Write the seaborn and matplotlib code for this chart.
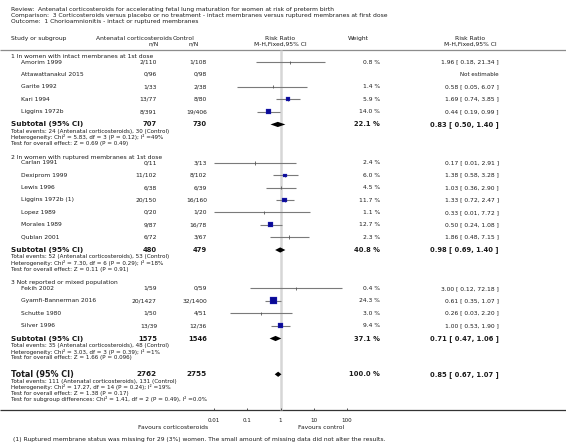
import matplotlib
matplotlib.use("Agg")
import matplotlib.pyplot as plt
import numpy as np
import pandas as pd
import seaborn as sns

sns.set_theme(style="white")
plt.rcParams["font.family"] = ["DejaVu Sans"]

# ---- data ----
title_lines = [
    "Review:  Antenatal corticosteroids for accelerating fetal lung maturation for women at risk of preterm birth",
    "Comparison:  3 Corticosteroids versus placebo or no treatment - intact membranes versus ruptured membranes at first dose",
    "Outcome:  1 Chorioamnionitis - intact or ruptured membranes",
]
subgroup_labels = [
    "1 In women with intact membranes at 1st dose",
    "2 In women with ruptured membranes at 1st dose",
    "3 Not reported or mixed population",
]
studies = [
    "Amorim 1999", "Attawattanakul 2015", "Garite 1992", "Kari 1994", "Liggins 1972b",
    "Carlan 1991", "Dexiprom 1999", "Lewis 1996", "Liggins 1972b (1)", "Lopez 1989",
    "Morales 1989", "Qublan 2001",
    "Fekih 2002", "Gyamfi-Bannerman 2016", "Schutte 1980", "Silver 1996",
]
study_group = [0, 0, 0, 0, 0, 1, 1, 1, 1, 1, 1, 1, 2, 2, 2, 2]
events_t = [2, 0, 1, 13, 8, 0, 11, 6, 20, 0, 9, 6, 1, 20, 1, 13]
total_t = [110, 96, 33, 77, 391, 11, 102, 38, 150, 20, 87, 72, 59, 1427, 50, 39]
events_c = [1, 0, 2, 8, 19, 3, 8, 6, 16, 1, 16, 3, 0, 32, 4, 12]
total_c = [108, 98, 38, 80, 406, 13, 102, 39, 160, 20, 78, 67, 59, 1400, 51, 36]
weight = [0.8, np.nan, 1.4, 5.9, 14.0, 2.4, 6.0, 4.5, 11.7, 1.1, 12.7, 2.3, 0.4, 24.3, 3.0, 9.4]
rr = [1.96, np.nan, 0.58, 1.69, 0.44, 0.17, 1.38, 1.03, 1.33, 0.33, 0.50, 1.86, 3.00, 0.61, 0.26, 1.00]
rr_lo = [0.18, np.nan, 0.05, 0.74, 0.19, 0.01, 0.58, 0.36, 0.72, 0.01, 0.24, 0.48, 0.12, 0.35, 0.03, 0.53]
rr_hi = [21.34, np.nan, 6.07, 3.85, 0.99, 2.91, 3.28, 2.90, 2.47, 7.72, 1.08, 7.15, 72.18, 1.07, 2.20, 1.90]

sub_n_t = [707, 480, 1575]
sub_n_c = [730, 479, 1546]
sub_weight = [22.1, 40.8, 37.1]
sub_rr = [0.83, 0.98, 0.71]
sub_lo = [0.50, 0.69, 0.47]
sub_hi = [1.40, 1.40, 1.06]
sub_notes = [
    ["Total events: 24 (Antenatal corticosteroids), 30 (Control)",
     "Heterogeneity: Chi² = 5.83, df = 3 (P = 0.12); I² =49%",
     "Test for overall effect: Z = 0.69 (P = 0.49)"],
    ["Total events: 52 (Antenatal corticosteroids), 53 (Control)",
     "Heterogeneity: Chi² = 7.30, df = 6 (P = 0.29); I² =18%",
     "Test for overall effect: Z = 0.11 (P = 0.91)"],
    ["Total events: 35 (Antenatal corticosteroids), 48 (Control)",
     "Heterogeneity: Chi² = 3.03, df = 3 (P = 0.39); I² =1%",
     "Test for overall effect: Z = 1.66 (P = 0.096)"],
]
total_n_t = 2762
total_n_c = 2755
total_weight = 100.0
total_rr, total_lo, total_hi = 0.85, 0.67, 1.07
total_notes = [
    "Total events: 111 (Antenatal corticosteroids), 131 (Control)",
    "Heterogeneity: Chi² = 17.27, df = 14 (P = 0.24); I² =19%",
    "Test for overall effect: Z = 1.38 (P = 0.17)",
    "Test for subgroup differences: Chi² = 1.41, df = 2 (P = 0.49), I² =0.0%",
]
axis_ticks = [0.01, 0.1, 1, 10, 100]
axis_tick_labels = ["0.01", "0.1", "1", "10", "100"]
footnote = "(1) Ruptured membrane status was missing for 29 (3%) women. The small amount of missing data did not alter the results."

# ---- layout (pixels from top) ----
W, H = 566, 443
FS = 4.3
TXT = "#1a1a1a"
X_LEFT, X_STUDY = 11, 21
X_NT, X_NC = 157, 207
X_W, X_RR = 380, 499

fig = plt.figure(figsize=(W / 100, H / 100), dpi=100)
bg = fig.add_axes([0, 0, 1, 1])
bg.set_xlim(0, W)
bg.set_ylim(H, 0)
bg.axis("off")

# forest axes: 0.01 -> x=214, 100 -> x=347
fx0, fx1 = 214, 347
fa = fig.add_axes([fx0 / W, 0, (fx1 - fx0) / W, 1])
fa.set_xscale("log")
fa.set_xlim(0.01, 100)
fa.set_ylim(H, 0)
fa.axis("off")


def txt(x, y, s, ha="left", bold=False, size=FS):
    bg.text(x, y, s, ha=ha, va="center", fontsize=size, color=TXT,
            fontweight="bold" if bold else "normal")


for i, line in enumerate(title_lines):
    txt(X_LEFT, 9 + i * 6.3, line)

txt(X_LEFT, 38, "Study or subgroup")
txt(172, 38, "Antenatal corticosteroids", ha="right")
txt(173, 38, "Control")
txt(X_NT + 2, 44, "n/N", ha="right")
txt(X_NC - 8, 44, "n/N", ha="right")
txt(280, 38, "Risk Ratio", ha="center")
txt(280, 44, "M-H,Fixed,95% CI", ha="center")
txt(348, 38, "Weight")
txt(470, 38, "Risk Ratio", ha="center")
txt(470, 44, "M-H,Fixed,95% CI", ha="center")
bg.hlines(49.5, 0, W, color="#8c8c8c", lw=0.9)

# row positions
step = 12.35
y = 56.3
study_y = [0.0] * len(studies)
sub_y = []
note_y = []
head_y = []
for g in range(3):
    head_y.append(y)
    y += 5.8
    for k, gi in enumerate(study_group):
        if gi == g:
            study_y[k] = y
            y += step
    y += 0.6
    sub_y.append(y)
    ys = [y + 6.8 + 6.2 * j for j in range(3)]
    note_y.append(ys)
    y = ys[-1] + 13.5
total_y = note_y[-1][-1] + 16.6
axis_y = 410

# reference line at RR = 1
fa.vlines(1, 49.5, axis_y, color="#d6d6d6", lw=1.8, zorder=0)

for g in range(3):
    txt(X_LEFT, head_y[g], subgroup_labels[g])
    txt(X_LEFT, sub_y[g], "Subtotal (95% CI)", bold=True, size=FS + 0.9)
    txt(X_NT, sub_y[g], str(sub_n_t[g]), ha="right", bold=True, size=FS + 0.6)
    txt(X_NC, sub_y[g], str(sub_n_c[g]), ha="right", bold=True, size=FS + 0.6)
    txt(X_W, sub_y[g], f"{sub_weight[g]:.1f} %", ha="right", bold=True, size=FS + 0.6)
    txt(X_RR, sub_y[g], f"{sub_rr[g]:.2f} [ {sub_lo[g]:.2f}, {sub_hi[g]:.2f} ]",
        ha="right", bold=True, size=FS + 0.6)
    for j, note in enumerate(sub_notes[g]):
        txt(X_LEFT, note_y[g][j], note, size=FS - 0.2)

for k, name in enumerate(studies):
    yy = study_y[k]
    txt(X_STUDY, yy, name)
    txt(X_NT, yy, f"{events_t[k]}/{total_t[k]}", ha="right")
    txt(X_NC, yy, f"{events_c[k]}/{total_c[k]}", ha="right")
    if np.isnan(rr[k]):
        txt(X_RR, yy, "Not estimable", ha="right", size=FS - 0.3)
    else:
        txt(X_W, yy, f"{weight[k]:.1f} %", ha="right")
        txt(X_RR, yy, f"{rr[k]:.2f} [ {rr_lo[k]:.2f}, {rr_hi[k]:.2f} ]", ha="right")

# total row
txt(X_LEFT, total_y, "Total (95% CI)", bold=True, size=FS + 1.5)
txt(X_NT, total_y, str(total_n_t), ha="right", bold=True, size=FS + 0.9)
txt(X_NC, total_y, str(total_n_c), ha="right", bold=True, size=FS + 0.9)
txt(X_W, total_y, f"{total_weight:.1f} %", ha="right", bold=True, size=FS + 0.6)
txt(X_RR, total_y, f"{total_rr:.2f} [ {total_lo:.2f}, {total_hi:.2f} ]",
    ha="right", bold=True, size=FS + 0.6)
for j, note in enumerate(total_notes):
    txt(X_LEFT, total_y + 6.8 + 6.0 * j, note, size=FS - 0.2)

# ---- forest marks ----
df = pd.DataFrame({"rr": rr, "lo": rr_lo, "hi": rr_hi, "weight": weight, "y": study_y})
df = df.dropna()
fa.hlines(df["y"], df["lo"], df["hi"], color="#7a7a7a", lw=0.8, zorder=2)
fa.vlines(df["rr"], df["y"] - 1.6, df["y"] + 1.6, color="#555555", lw=0.6, zorder=2)
big = df[df["weight"] >= 5]
sns.scatterplot(data=big, x="rr", y="y", size="weight", sizes=(0, 26), size_norm=(0, 24.3),
                marker="s", color="#0a0a96", edgecolor="#3a3ad0", linewidth=0.2,
                legend=False, ax=fa, zorder=3)
fa.set_xlim(0.01, 100)
fa.set_ylim(H, 0)
fa.axis("off")

dh = 2.6
for g in range(3):
    fa.fill([sub_lo[g], sub_rr[g], sub_hi[g], sub_rr[g]],
            [sub_y[g], sub_y[g] - dh, sub_y[g], sub_y[g] + dh], color="black", lw=0, zorder=4)
fa.fill([total_lo, total_rr, total_hi, total_rr],
        [total_y, total_y - dh, total_y, total_y + dh], color="black", lw=0, zorder=4)

# axis
bg.hlines(axis_y, 0, W, color="#333333", lw=0.9)
fa.vlines(axis_ticks, axis_y - 2.5, axis_y, color="#333333", lw=0.6, clip_on=False)
for t, lab in zip(axis_ticks, axis_tick_labels):
    fa.text(t, 420.5, lab, ha="center", va="center", fontsize=FS - 0.2, color=TXT)
txt(208, 427.5, "Favours corticosteroids", ha="right")
txt(298, 427.5, "Favours control")

txt(X_LEFT + 2, 440, footnote)

fig.savefig("out.png", dpi=100)
